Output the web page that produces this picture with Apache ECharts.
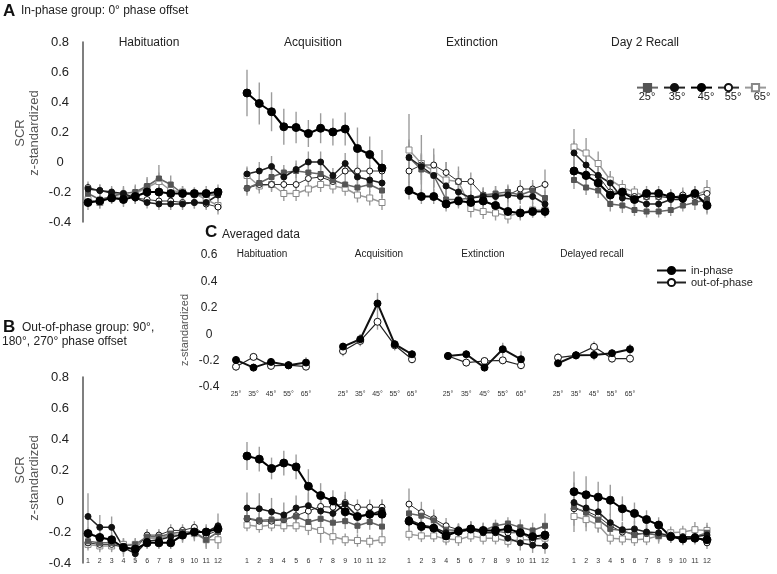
<!DOCTYPE html>
<html><head><meta charset="utf-8">
<script src="https://cdn.jsdelivr.net/npm/echarts@6/dist/echarts.min.js"></script>
<style>html,body{margin:0;padding:0;background:#fff}#c{width:777px;height:574px}</style>
</head><body><div id="c"></div>
<script>
// ---------------- DATA ----------------
const trials = ['1','2','3','4','5','6','7','8','9','10','11','12'];
const angles = ['25°','35°','45°','55°','65°'];
const phasesAB = ['Habituation','Acquisition','Extinction','Day 2 Recall'];
const phasesC = ['Habituation','Acquisition','Extinction','Delayed recall'];
const groupsC = ['in-phase','out-of-phase'];
const yTicksAB = [-0.4,-0.2,0,0.2,0.4,0.6,0.8];
const yTicksC = [-0.4,-0.2,0,0.2,0.4,0.6];

// Panel A (in-phase group) means
const aHab = {
 '25°':[-0.21,-0.25,-0.23,-0.21,-0.2,-0.16,-0.11,-0.15,-0.21,-0.22,-0.22,-0.22],
 '35°':[-0.18,-0.19,-0.2,-0.21,-0.24,-0.27,-0.28,-0.28,-0.28,-0.27,-0.27,-0.22],
 '45°':[-0.27,-0.26,-0.24,-0.25,-0.23,-0.2,-0.2,-0.21,-0.21,-0.21,-0.21,-0.2],
 '55°':[-0.17,-0.19,-0.21,-0.22,-0.24,-0.25,-0.26,-0.26,-0.27,-0.27,-0.28,-0.3],
 '65°':[-0.25,-0.27,-0.23,-0.24,-0.21,-0.17,-0.13,-0.19,-0.2,-0.21,-0.25,-0.29]};
const aAcq = {
 '25°':[-0.175,-0.14,-0.1,-0.07,-0.06,-0.07,-0.08,-0.12,-0.15,-0.17,-0.15,-0.19],
 '35°':[-0.08,-0.06,-0.03,-0.1,-0.05,0.0,0.0,-0.09,-0.01,-0.1,-0.12,-0.14],
 '45°':[0.46,0.39,0.335,0.235,0.23,0.19,0.225,0.2,0.22,0.09,0.05,-0.04],
 '55°':[-0.175,-0.15,-0.15,-0.15,-0.15,-0.11,-0.1,-0.13,-0.06,-0.06,-0.06,-0.06],
 '65°':[-0.09,-0.16,-0.15,-0.21,-0.21,-0.18,-0.15,-0.16,-0.175,-0.22,-0.24,-0.27]};
const aExt = {
 '25°':[0.03,-0.05,-0.09,-0.25,-0.25,-0.24,-0.22,-0.21,-0.2,-0.22,-0.19,-0.24],
 '35°':[0.03,-0.03,-0.09,-0.16,-0.2,-0.24,-0.23,-0.23,-0.22,-0.23,-0.23,-0.28],
 '45°':[-0.19,-0.23,-0.23,-0.28,-0.26,-0.27,-0.26,-0.29,-0.33,-0.34,-0.33,-0.33],
 '55°':[-0.06,-0.02,-0.02,-0.07,-0.13,-0.13,-0.22,-0.22,-0.22,-0.18,-0.18,-0.15],
 '65°':[0.08,-0.01,-0.06,-0.12,-0.13,-0.31,-0.33,-0.34,-0.36,-0.34,-0.32,-0.32]};
const aRec = {
 '25°':[-0.12,-0.17,-0.19,-0.28,-0.29,-0.32,-0.33,-0.33,-0.32,-0.29,-0.27,-0.25],
 '35°':[0.06,-0.02,-0.09,-0.14,-0.24,-0.25,-0.28,-0.28,-0.25,-0.25,-0.21,-0.28],
 '45°':[-0.06,-0.09,-0.14,-0.22,-0.2,-0.25,-0.21,-0.21,-0.23,-0.24,-0.21,-0.29],
 '55°':[-0.06,-0.08,-0.09,-0.2,-0.2,-0.23,-0.23,-0.23,-0.24,-0.22,-0.23,-0.21],
 '65°':[0.1,0.06,-0.01,-0.12,-0.17,-0.2,-0.23,-0.23,-0.23,-0.23,-0.22,-0.19]};
// Panel A error bars (half-length)
const aHabErr = {
 '25°':[0.05,0.04,0.04,0.05,0.05,0.06,0.09,0.06,0.05,0.04,0.04,0.04],
 '35°':[0.04,0.04,0.04,0.04,0.04,0.04,0.04,0.04,0.04,0.04,0.04,0.04],
 '45°':[0.05,0.05,0.04,0.05,0.04,0.05,0.05,0.04,0.04,0.04,0.05,0.05],
 '55°':[0.04,0.04,0.04,0.04,0.04,0.04,0.04,0.04,0.04,0.04,0.04,0.05],
 '65°':[0.04,0.04,0.04,0.05,0.05,0.06,0.06,0.05,0.04,0.04,0.04,0.04]};
const aAcqErr = {
 '25°':[0.05,0.05,0.06,0.05,0.05,0.05,0.05,0.05,0.05,0.05,0.05,0.05],
 '35°':[0.05,0.06,0.07,0.06,0.06,0.07,0.07,0.05,0.07,0.05,0.05,0.05],
 '45°':[0.155,0.14,0.13,0.12,0.105,0.09,0.1,0.09,0.11,0.14,0.12,0.12],
 '55°':[0.04,0.04,0.04,0.04,0.04,0.04,0.04,0.04,0.04,0.04,0.04,0.04],
 '65°':[0.05,0.05,0.05,0.05,0.05,0.05,0.05,0.05,0.05,0.05,0.05,0.05]};
const aExtErr = {
 '25°':[0.12,0.1,0.08,0.06,0.05,0.05,0.05,0.05,0.05,0.05,0.05,0.05],
 '35°':[0.1,0.09,0.08,0.07,0.06,0.05,0.05,0.05,0.05,0.05,0.05,0.05],
 '45°':[0.06,0.05,0.05,0.05,0.05,0.05,0.05,0.05,0.05,0.04,0.04,0.04],
 '55°':[0.08,0.07,0.07,0.07,0.07,0.06,0.05,0.06,0.06,0.06,0.06,0.1],
 '65°':[0.24,0.19,0.15,0.12,0.1,0.06,0.05,0.05,0.05,0.05,0.05,0.05]};
const aRecErr = {
 '25°':[0.06,0.05,0.05,0.05,0.05,0.04,0.04,0.04,0.04,0.04,0.05,0.05],
 '35°':[0.08,0.07,0.07,0.06,0.06,0.05,0.05,0.05,0.05,0.05,0.05,0.06],
 '45°':[0.07,0.07,0.06,0.06,0.05,0.05,0.05,0.05,0.05,0.05,0.05,0.06],
 '55°':[0.06,0.05,0.05,0.05,0.05,0.05,0.05,0.05,0.05,0.05,0.05,0.05],
 '65°':[0.12,0.1,0.08,0.06,0.05,0.04,0.04,0.04,0.04,0.04,0.05,0.07]};

// Panel B (out-of-phase group) means
const bHab = {
 '25°':[-0.26,-0.27,-0.27,-0.29,-0.28,-0.23,-0.23,-0.21,-0.2,-0.2,-0.25,-0.2],
 '35°':[-0.1,-0.17,-0.17,-0.3,-0.34,-0.26,-0.25,-0.23,-0.22,-0.2,-0.2,-0.16],
 '45°':[-0.21,-0.235,-0.25,-0.3,-0.31,-0.27,-0.27,-0.27,-0.22,-0.2,-0.2,-0.18],
 '55°':[-0.27,-0.28,-0.28,-0.3,-0.31,-0.22,-0.22,-0.19,-0.19,-0.17,-0.22,-0.19],
 '65°':[-0.28,-0.29,-0.29,-0.28,-0.28,-0.24,-0.24,-0.22,-0.22,-0.21,-0.25,-0.25]};
const bAcq = {
 '25°':[-0.11,-0.125,-0.12,-0.12,-0.1,-0.135,-0.115,-0.14,-0.13,-0.16,-0.135,-0.165],
 '35°':[-0.045,-0.05,-0.07,-0.09,-0.045,-0.03,-0.065,-0.08,-0.02,-0.1,-0.09,-0.06],
 '45°':[0.29,0.27,0.21,0.245,0.22,0.095,0.035,0.0,-0.07,-0.1,-0.085,-0.085],
 '55°':[-0.115,-0.13,-0.13,-0.12,-0.095,-0.065,-0.035,-0.04,-0.01,-0.04,-0.04,-0.04],
 '65°':[-0.155,-0.165,-0.155,-0.16,-0.16,-0.17,-0.19,-0.23,-0.25,-0.255,-0.26,-0.25]};
const bExt = {
 '25°':[-0.08,-0.095,-0.125,-0.185,-0.19,-0.175,-0.19,-0.16,-0.145,-0.17,-0.19,-0.16],
 '35°':[-0.12,-0.155,-0.17,-0.205,-0.2,-0.185,-0.205,-0.205,-0.24,-0.27,-0.285,-0.29],
 '45°':[-0.13,-0.165,-0.175,-0.225,-0.195,-0.18,-0.19,-0.19,-0.18,-0.205,-0.23,-0.22],
 '55°':[-0.02,-0.075,-0.115,-0.16,-0.185,-0.18,-0.19,-0.195,-0.205,-0.205,-0.25,-0.23],
 '65°':[-0.215,-0.225,-0.225,-0.245,-0.25,-0.225,-0.24,-0.24,-0.26,-0.25,-0.25,-0.24]};
const bRec = {
 '25°':[-0.04,-0.075,-0.12,-0.18,-0.19,-0.22,-0.205,-0.225,-0.23,-0.24,-0.23,-0.205],
 '35°':[-0.01,-0.045,-0.07,-0.14,-0.185,-0.18,-0.2,-0.205,-0.23,-0.23,-0.23,-0.22],
 '45°':[0.06,0.04,0.025,0.005,-0.05,-0.08,-0.12,-0.155,-0.23,-0.245,-0.24,-0.25],
 '55°':[-0.05,-0.065,-0.1,-0.16,-0.2,-0.21,-0.21,-0.22,-0.22,-0.24,-0.23,-0.27],
 '65°':[-0.1,-0.12,-0.155,-0.24,-0.245,-0.25,-0.245,-0.225,-0.205,-0.2,-0.185,-0.19]};
// Panel B error bars (half-length)
const bHabErr = {
 '25°':[0.04,0.04,0.04,0.04,0.04,0.04,0.04,0.04,0.04,0.04,0.05,0.05],
 '35°':[0.15,0.08,0.07,0.06,0.05,0.04,0.04,0.05,0.05,0.05,0.05,0.08],
 '45°':[0.04,0.04,0.04,0.04,0.04,0.04,0.04,0.04,0.04,0.04,0.04,0.04],
 '55°':[0.04,0.04,0.04,0.04,0.04,0.04,0.04,0.04,0.04,0.04,0.04,0.04],
 '65°':[0.04,0.04,0.04,0.04,0.04,0.04,0.04,0.04,0.04,0.05,0.06,0.06]};
const bAcqErr = {
 '25°':[0.05,0.05,0.05,0.05,0.05,0.05,0.05,0.05,0.05,0.05,0.05,0.05],
 '35°':[0.1,0.1,0.09,0.08,0.08,0.08,0.07,0.07,0.08,0.07,0.07,0.07],
 '45°':[0.09,0.08,0.07,0.08,0.08,0.11,0.08,0.07,0.06,0.06,0.06,0.06],
 '55°':[0.05,0.05,0.05,0.05,0.05,0.05,0.05,0.05,0.05,0.05,0.05,0.05],
 '65°':[0.04,0.04,0.04,0.04,0.04,0.05,0.08,0.05,0.04,0.04,0.04,0.04]};
const bExtErr = {
 '25°':[0.05,0.05,0.05,0.05,0.04,0.04,0.04,0.04,0.04,0.05,0.05,0.08],
 '35°':[0.05,0.05,0.05,0.05,0.05,0.05,0.05,0.05,0.05,0.05,0.05,0.05],
 '45°':[0.06,0.05,0.05,0.05,0.05,0.05,0.05,0.05,0.05,0.05,0.05,0.05],
 '55°':[0.1,0.07,0.06,0.05,0.04,0.05,0.05,0.06,0.06,0.06,0.06,0.05],
 '65°':[0.04,0.04,0.04,0.04,0.04,0.04,0.04,0.04,0.04,0.04,0.04,0.04]};
const bRecErr = {
 '25°':[0.16,0.12,0.08,0.06,0.05,0.05,0.05,0.05,0.04,0.04,0.04,0.05],
 '35°':[0.1,0.08,0.07,0.06,0.05,0.05,0.05,0.05,0.04,0.04,0.04,0.04],
 '45°':[0.13,0.12,0.1,0.1,0.08,0.07,0.06,0.05,0.04,0.04,0.04,0.04],
 '55°':[0.05,0.05,0.05,0.04,0.04,0.04,0.04,0.04,0.04,0.04,0.04,0.04],
 '65°':[0.06,0.05,0.05,0.04,0.04,0.04,0.04,0.04,0.04,0.04,0.05,0.05]};

// Panel C averaged data
const cHab = {'in-phase':[-0.195,-0.253,-0.21,-0.235,-0.215], 'out-of-phase':[-0.246,-0.172,-0.24,-0.235,-0.246]};
const cAcq = {'in-phase':[-0.094,-0.038,0.233,-0.076,-0.152], 'out-of-phase':[-0.127,-0.051,0.094,-0.084,-0.19]};
const cExt = {'in-phase':[-0.165,-0.152,-0.253,-0.114,-0.19], 'out-of-phase':[-0.165,-0.215,-0.203,-0.198,-0.235]};
const cRec = {'in-phase':[-0.22,-0.16,-0.157,-0.144,-0.114], 'out-of-phase':[-0.177,-0.16,-0.096,-0.185,-0.185]};
const cHabErr = {'in-phase':[0.03,0.03,0.03,0.03,0.04], 'out-of-phase':[0.03,0.03,0.02,0.03,0.02]};
const cAcqErr = {'in-phase':[0.03,0.04,0.08,0.03,0.03], 'out-of-phase':[0.04,0.04,0.06,0.04,0.03]};
const cExtErr = {'in-phase':[0.03,0.03,0.03,0.05,0.06], 'out-of-phase':[0.03,0.03,0.03,0.03,0.03]};
const cRecErr = {'in-phase':[0.03,0.03,0.04,0.03,0.04], 'out-of-phase':[0.03,0.03,0.04,0.03,0.03]};

// ---------------- LAYOUT / STYLE ----------------
const FONT = '"Liberation Sans", Arial, sans-serif';
const abLeft = [88, 247, 409, 574], abWidth = [130, 135, 136, 133];
const cLeft = [236, 343, 448, 558], cWidth = [70, 69, 73, 72];
const panelTop = {A: 42, B: 377}, panelH = {A: 180, B: 186};
const cTop = 255, cH = 132;

const styleOf = {
 '25°': {symbol:'rect', size:5, fill:'#555', border:'#555', line:'#666', lw:1.5},
 '35°': {symbol:'circle', size:6, fill:'#111', border:'#111', line:'#222', lw:1.5},
 '45°': {symbol:'circle', size:8, fill:'#000', border:'#000', line:'#000', lw:2},
 '55°': {symbol:'circle', size:6, fill:'#fff', border:'#111', line:'#333', lw:1},
 '65°': {symbol:'rect', size:6, fill:'#fff', border:'#888', line:'#999', lw:1.5},
 'in-phase': {symbol:'circle', size:7, fill:'#000', border:'#000', line:'#111', lw:2},
 'out-of-phase': {symbol:'circle', size:7, fill:'#fff', border:'#111', line:'#222', lw:1.2}
};
const drawOrder = ['65°','55°','25°','35°','45°'];

const grid = [], xAxis = [], yAxis = [], series = [];
const fmt = v => Math.abs(v) < 1e-9 ? '0' : v.toFixed(1);

function errSeries(means, errs, gi) {
  return {
    type:'custom', xAxisIndex:gi, yAxisIndex:gi, z:1, silent:true,
    data: means.map((v, i) => [i, v, errs[i]]),
    encode:{x:0, y:1},
    renderItem(params, api) {
      const x = api.value(0), v = api.value(1), e = api.value(2);
      const p1 = api.coord([x, v - e]), p2 = api.coord([x, v + e]);
      return {type:'line', shape:{x1:p1[0], y1:p1[1], x2:p2[0], y2:p2[1]},
              style:{stroke:'#9c9c9c', lineWidth:1.4}};
    }
  };
}
function lineSeries(name, data, gi) {
  const st = styleOf[name];
  return {type:'line', name, xAxisIndex:gi, yAxisIndex:gi, data, z:3,
    symbol:st.symbol, symbolSize:st.size, showSymbol:true, showAllSymbol:true,
    lineStyle:{color:st.line, width:st.lw},
    itemStyle:{color:st.fill, borderColor:st.border, borderWidth:1},
    emphasis:{disabled:true}};
}

const panelData = {
  A: [[aHab,aHabErr],[aAcq,aAcqErr],[aExt,aExtErr],[aRec,aRecErr]],
  B: [[bHab,bHabErr],[bAcq,bAcqErr],[bExt,bExtErr],[bRec,bRecErr]]
};
['A','B'].forEach(p => {
  panelData[p].forEach(([means, errs], k) => {
    const gi = grid.length;
    grid.push({left:abLeft[k], width:abWidth[k], top:panelTop[p], height:panelH[p]});
    xAxis.push({gridIndex:gi, type:'category', boundaryGap:false, data:trials,
      axisLine:{show:false}, axisTick:{show:false}, splitLine:{show:false},
      offset: p === 'B' ? -5 : 0,
      axisLabel:{show:p === 'B', margin:0, fontSize:7, color:'#333', fontFamily:FONT, interval:0}});
    yAxis.push({gridIndex:gi, type:'value', min:yTicksAB[0], max:yTicksAB[yTicksAB.length-1], interval:0.2,
      show: k === 0, offset:5,
      axisLine:{show:true, lineStyle:{color:'#555', width:1.5}}, axisTick:{show:false}, splitLine:{show:false},
      axisLabel:{fontSize:13, color:'#222', fontFamily:FONT, margin:23, align:'center', formatter:fmt}});
    drawOrder.forEach(a => series.push(errSeries(means[a], errs[a], gi)));
    drawOrder.forEach(a => series.push(lineSeries(a, means[a], gi)));
  });
});
const cData = [[cHab,cHabErr],[cAcq,cAcqErr],[cExt,cExtErr],[cRec,cRecErr]];
cData.forEach(([means, errs], k) => {
  const gi = grid.length;
  grid.push({left:cLeft[k], width:cWidth[k], top:cTop, height:cH});
  xAxis.push({gridIndex:gi, type:'category', boundaryGap:false, data:angles,
    axisLine:{show:false}, axisTick:{show:false}, splitLine:{show:false},
    axisLabel:{margin:4, fontSize:7, color:'#333', fontFamily:FONT, interval:0}});
  yAxis.push({gridIndex:gi, type:'value', min:yTicksC[0], max:yTicksC[yTicksC.length-1], interval:0.2,
    show: k === 0,
    axisLine:{show:false}, axisTick:{show:false}, splitLine:{show:false},
    axisLabel:{fontSize:12, color:'#222', fontFamily:FONT, margin:27, align:'center', formatter:fmt}});
  groupsC.forEach(g => series.push(errSeries(means[g], errs[g], gi)));
  groupsC.slice().reverse().forEach(g => series.push(lineSeries(g, means[g], gi)));
});

function txt(text, x, y, o) {
  o = o || {};
  return {type:'text', x, y, rotation:o.rot || 0, silent:true,
    style:{text, font:(o.weight||'normal') + ' ' + (o.size||12) + 'px ' + FONT, fill:o.color||'#222',
      textAlign:o.align||'left', textVerticalAlign:'middle', align:o.align||'left', verticalAlign:'middle'}};
}
const gfx = [
  txt('A', 3, 11, {size:17, weight:'bold', color:'#111'}),
  txt('In-phase group: 0° phase offset', 21, 11, {size:12}),
  txt('B', 3, 327, {size:17, weight:'bold', color:'#111'}),
  txt('Out-of-phase group: 90°,', 22, 328, {size:12}),
  txt('180°, 270° phase offset', 2, 342, {size:12}),
  txt('C', 205, 232, {size:17, weight:'bold', color:'#111'}),
  txt('Averaged data', 222, 235, {size:12}),
  txt('SCR', 20, 133, {size:13, color:'#555', rot:Math.PI/2, align:'center'}),
  txt('z-standardized', 34, 133, {size:13, color:'#555', rot:Math.PI/2, align:'center'}),
  txt('SCR', 20, 470, {size:13, color:'#555', rot:Math.PI/2, align:'center'}),
  txt('z-standardized', 34, 478, {size:13, color:'#555', rot:Math.PI/2, align:'center'}),
  txt('z-standardized', 185, 330, {size:11, color:'#555', rot:Math.PI/2, align:'center'})
];
const titleXAB = [149, 313, 472, 645];
phasesAB.forEach((t, k) => gfx.push(txt(t, titleXAB[k], 43, {size:12, align:'center'})));
const titleXC = [262, 379, 483, 592];
phasesC.forEach((t, k) => gfx.push(txt(t, titleXC[k], 254, {size:10, align:'center'})));
const legLabelX = [647, 677, 706, 733, 762];
angles.forEach((a, k) => gfx.push(txt(a, legLabelX[k], 97, {size:11, align:'center'})));

const option = {
  animation:false,
  backgroundColor:'#fff',
  grid, xAxis, yAxis, series,
  legend:[
    {data:angles, left:631, top:78, itemWidth:21, itemHeight:9, itemGap:4, selectedMode:false,
     formatter:() => '', textStyle:{fontSize:1}},
    {data:groupsC, orient:'vertical', left:651, top:260, itemWidth:29, itemHeight:9, itemGap:1, selectedMode:false,
     textStyle:{fontSize:11, color:'#222', fontFamily:FONT}}
  ],
  graphic:gfx
};
const chart = echarts.init(document.getElementById('c'));
chart.setOption(option);
</script></body></html>
